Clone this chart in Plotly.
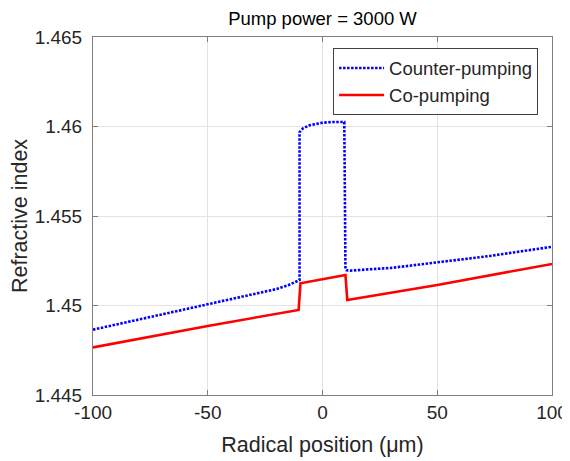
import plotly.graph_objects as go

# Counter-pumping (blue dotted)
counter_x = [-100, -75, -50, -30, -20, -15, -10, -10, -8.5, -5.4, 0, 4, 7.6, 9.5, 10, 10.5, 12, 30, 50, 73, 100]
counter_y = [1.44865, 1.44935, 1.45005, 1.45062, 1.45092, 1.45113, 1.45142, 1.45968, 1.45990, 1.46008,
             1.46021, 1.46025, 1.46027, 1.46025, 1.45205, 1.45197, 1.45195, 1.45210, 1.45241,
             1.45277, 1.45328]

# Co-pumping (red solid)
co_x = [-100, -50, -10.4, -9.6, 10, 10.8, 50, 100]
co_y = [1.44766, 1.44886, 1.44975, 1.45124, 1.45170, 1.45031, 1.45115, 1.45232]

x_ticks = [-100, -50, 0, 50, 100]
x_ticklabels = ["-100", "-50", "0", "50", "100"]
y_ticks = [1.445, 1.45, 1.455, 1.46, 1.465]
y_ticklabels = ["1.445", "1.45", "1.455", "1.46", "1.465"]

FONT = "Liberation Sans, Arial, sans-serif"
AX = "#262626"

fig = go.Figure()
fig.add_trace(go.Scatter(x=counter_x, y=counter_y, mode="lines", name="Counter-pumping",
                         line=dict(color="#0000ff", width=2.6, dash="2.5px,1.5px")))
fig.add_trace(go.Scatter(x=co_x, y=co_y, mode="lines", name="Co-pumping",
                         line=dict(color="#ff0000", width=2.6)))

axis_common = dict(showgrid=True, gridcolor="#e3e3e3", gridwidth=1,
                   showline=True, linecolor="#808080", linewidth=1, mirror="ticks",
                   ticks="inside", ticklen=5, tickcolor="#808080", automargin=False,
                   tickfont=dict(family=FONT, size=19, color=AX), zeroline=False)

# page body has an 8px margin, so the figure is sized to fit the 570x461 window
fig.update_layout(
    width=562, height=453,
    margin=dict(l=85, r=18, t=29, b=66),
    paper_bgcolor="white", plot_bgcolor="white",
    title=dict(text="Pump power = 3000 W", x=(322.5 - 8) / 562, xanchor="center",
               y=1 - (19 - 8) / 453, yanchor="middle",
               font=dict(family=FONT, size=18.5, color="#000000")),
    xaxis=dict(range=[-100, 100], tickvals=x_ticks, ticktext=x_ticklabels, ticklabelstandoff=0,
               title=dict(text="Radical position (μm)", font=dict(family=FONT, size=21.5, color=AX), standoff=15),
               **axis_common),
    yaxis=dict(range=[1.445, 1.465], tickvals=y_ticks, ticktext=y_ticklabels, ticklabelstandoff=6,
               title=dict(text="Refractive index", font=dict(family=FONT, size=21.5, color=AX), standoff=13),
               **axis_common),
    legend=dict(x=0.523, y=0.968, xanchor="left", yanchor="top",
                bordercolor="#404040", borderwidth=1, bgcolor="white",
                font=dict(family=FONT, size=18.5, color=AX),
                tracegroupgap=0, itemwidth=45),
    showlegend=True,
)

fig.write_html("out.html")
